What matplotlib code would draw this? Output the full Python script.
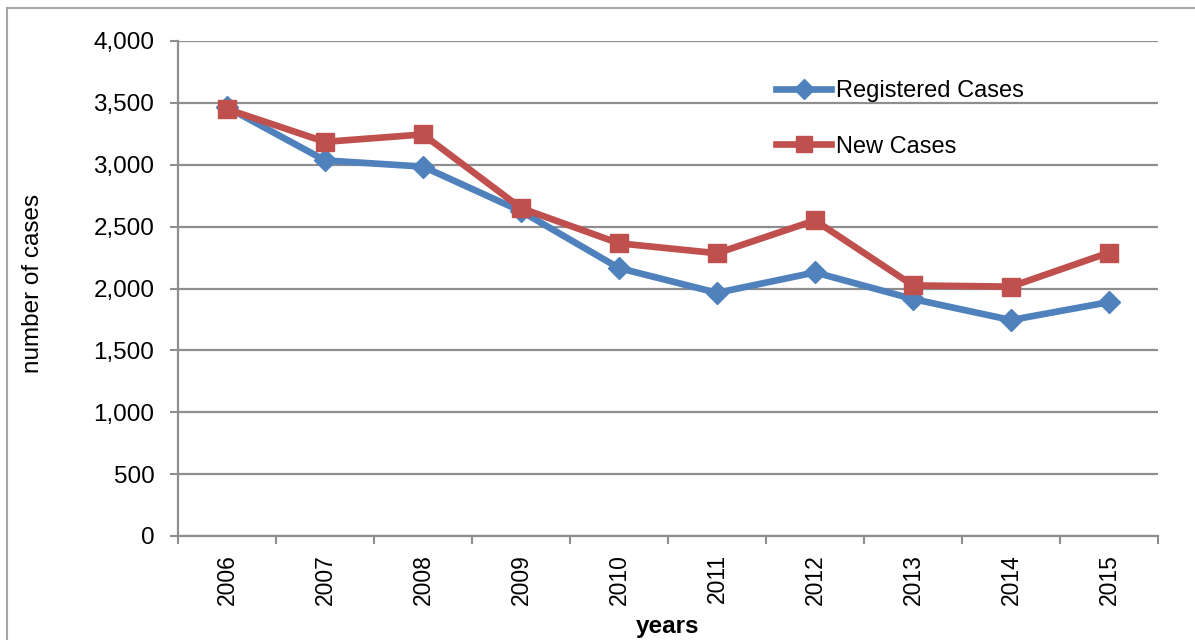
import matplotlib.pyplot as plt
from matplotlib.patches import Rectangle

plt.rcParams['font.family'] = ['Liberation Sans', 'DejaVu Sans']

years = ['2006', '2007', '2008', '2009', '2010', '2011', '2012', '2013', '2014', '2015']
registered = [3465, 3035, 2985, 2625, 2165, 1965, 2130, 1915, 1745, 1890]
new_cases = [3450, 3185, 3245, 2650, 2365, 2285, 2550, 2025, 2015, 2290]
y_ticks = [0, 500, 1000, 1500, 2000, 2500, 3000, 3500, 4000]

grey = '#8e8e8e'
blue = '#4f81bd'
red = '#c0504d'

fig = plt.figure(figsize=(11.95, 6.4), dpi=100)
ax = fig.add_axes([178 / 1195, 1 - 536 / 640, 980 / 1195, 495 / 640])

x = list(range(len(years)))
ax.plot(x, registered, color=blue, lw=4.8, marker='D', ms=11.5, label='Registered Cases', zorder=3)
ax.plot(x, new_cases, color=red, lw=4.8, marker='s', ms=13, label='New Cases', zorder=4)

ax.set_xlim(-0.5, len(years) - 0.5)
ax.set_ylim(0, 4000)
ax.set_yticks(y_ticks)
ax.set_yticklabels([f'{v:,}' for v in y_ticks])
ax.set_xticks(x)
ax.set_xticklabels(years, rotation=90)
ax.set_xticks([i - 0.5 for i in range(len(years) + 1)], minor=True)

ax.tick_params(axis='x', which='major', length=0, pad=13, labelsize=16.5)
ax.tick_params(axis='x', which='minor', length=6, width=1.5, color=grey)
ax.tick_params(axis='y', length=6, width=1.5, color=grey, pad=11, labelsize=17.5)

ax.grid(axis='y', color=grey, lw=1.6)
ax.set_axisbelow(True)
for side in ['top', 'right']:
    ax.spines[side].set_visible(False)
for side in ['left', 'bottom']:
    ax.spines[side].set_color(grey)
    ax.spines[side].set_linewidth(1.6)

ax.legend(loc='upper left', bbox_to_anchor=(776 / 1195, 1 - 80 / 640),
          bbox_transform=fig.transFigure, frameon=False, fontsize=17,
          handlelength=2.35, handletextpad=0.17, labelspacing=1.42,
          borderaxespad=0, borderpad=0, markerscale=0.85)

fig.text(33 / 1195, 1 - 283 / 640, 'number of cases', rotation=90,
         ha='center', va='center', fontsize=17.5)
fig.text(668 / 1195, 1 - 627 / 640, 'years', ha='center', va='center',
         fontsize=17.5, fontweight='bold')

fig.patches.append(Rectangle((7 / 1195, -0.1), 1.5, 1.1 - 8 / 640,
                             transform=fig.transFigure, fill=False,
                             edgecolor='#a6a6a6', lw=1.5))

fig.savefig('out.png', dpi=100)
